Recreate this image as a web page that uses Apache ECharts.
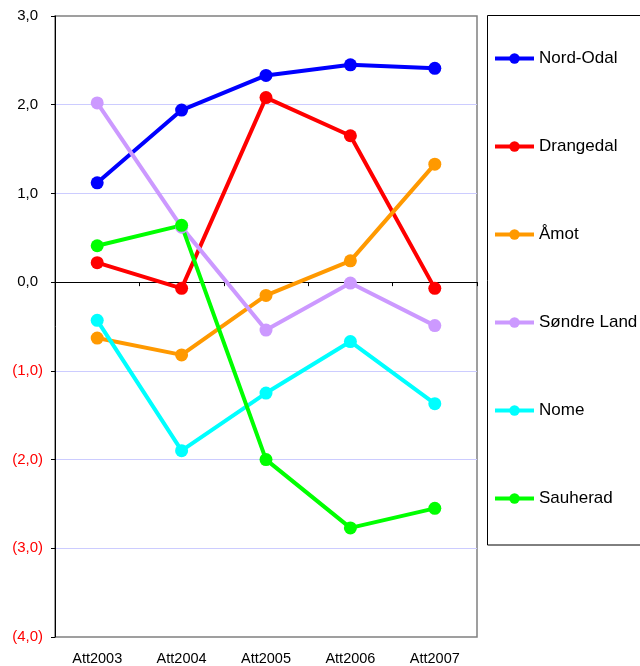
<!DOCTYPE html>
<html>
<head>
<meta charset="utf-8">
<script src="https://cdn.jsdelivr.net/npm/echarts@6/dist/echarts.min.js"></script>
<style>
html,body{margin:0;padding:0;background:#fff;}
#chart{width:640px;height:666px;}
</style>
</head>
<body>
<div id="chart"></div>
<script>
const categories = ['Att2003', 'Att2004', 'Att2005', 'Att2006', 'Att2007'];
const nordOdal   = [1.12, 1.94, 2.33, 2.45, 2.41];
const drangedal  = [0.22, -0.07, 2.08, 1.65, -0.07];
const amot       = [-0.63, -0.82, -0.15, 0.24, 1.33];
const sondreLand = [2.02, 0.62, -0.54, -0.01, -0.49];
const nome       = [-0.43, -1.90, -1.25, -0.67, -1.37];
const sauherad   = [0.41, 0.64, -2.00, -2.77, -2.55];

const seriesNames = ['Nord-Odal', 'Drangedal', 'Åmot', 'Søndre Land', 'Nome', 'Sauherad'];
const seriesData = [nordOdal, drangedal, amot, sondreLand, nome, sauherad];
const seriesColors = ['#0000FF', '#FF0000', '#FF9900', '#CC99FF', '#00FFFF', '#00FF00'];

const font = 'Liberation Sans, Arial, sans-serif';

function fmt(v) {
  const s = Math.abs(v).toFixed(1).replace('.', ',');
  return v < 0 ? '{neg|(' + s + ')}' : '{pos|' + s + '}';
}

const chart = echarts.init(document.getElementById('chart'), null, {renderer: 'canvas'});
chart.setOption({
  animation: false,
  backgroundColor: '#fff',
  grid: {
    left: 55, right: 163, top: 16, bottom: 28,
    show: true, borderColor: '#808080', borderWidth: 1.5, backgroundColor: 'transparent'
  },
  graphic: [{
    type: 'rect',
    shape: {x: 487.5, y: 15.5, width: 200, height: 529.5},
    style: {fill: 'transparent', stroke: '#000', lineWidth: 1},
    z: 0
  }],
  legend: {
    orient: 'vertical',
    left: 493,
    top: 50,
    padding: 0,
    itemWidth: 39,
    itemHeight: 13,
    itemGap: 71,
    lineStyle: {width: 4},
    textStyle: {fontFamily: font, fontSize: 17, color: '#000', lineHeight: 17},
    data: seriesNames
  },
  xAxis: [{
    type: 'category',
    data: categories,
    position: 'bottom',
    axisLine: {onZero: true, lineStyle: {color: '#000', width: 1}},
    axisTick: {show: true, length: 4, lineStyle: {color: '#000'}},
    axisLabel: {show: false},
    splitLine: {show: false}
  }, {
    type: 'category',
    data: categories,
    position: 'bottom',
    axisLine: {show: false, onZero: false},
    axisTick: {show: false},
    axisLabel: {show: true, margin: 14, fontFamily: font, fontSize: 14.5, color: '#000'},
    splitLine: {show: false}
  }],
  yAxis: {
    type: 'value',
    min: -4, max: 3, interval: 1,
    axisLine: {show: true, lineStyle: {color: '#000', width: 1}},
    axisTick: {show: true, inside: false, length: 4, lineStyle: {color: '#000'}},
    axisLabel: {
      margin: 12, fontFamily: font, fontSize: 15,
      formatter: fmt,
      rich: {
        pos: {fontFamily: font, fontSize: 15, color: '#000', padding: [0, 5, 0, 0]},
        neg: {fontFamily: font, fontSize: 15, color: '#FF0000'}
      }
    },
    splitLine: {show: true, showMinLine: false, showMaxLine: false, lineStyle: {color: '#CCCCFF', width: 1}}
  },
  series: seriesNames.map(function (name, i) {
    return {
      name: name,
      type: 'line',
      xAxisIndex: 0,
      data: seriesData[i],
      symbol: 'circle',
      symbolSize: 13,
      showSymbol: true,
      lineStyle: {color: seriesColors[i], width: 4},
      itemStyle: {color: seriesColors[i]},
      emphasis: {disabled: true}
    };
  })
});
</script>
</body>
</html>
